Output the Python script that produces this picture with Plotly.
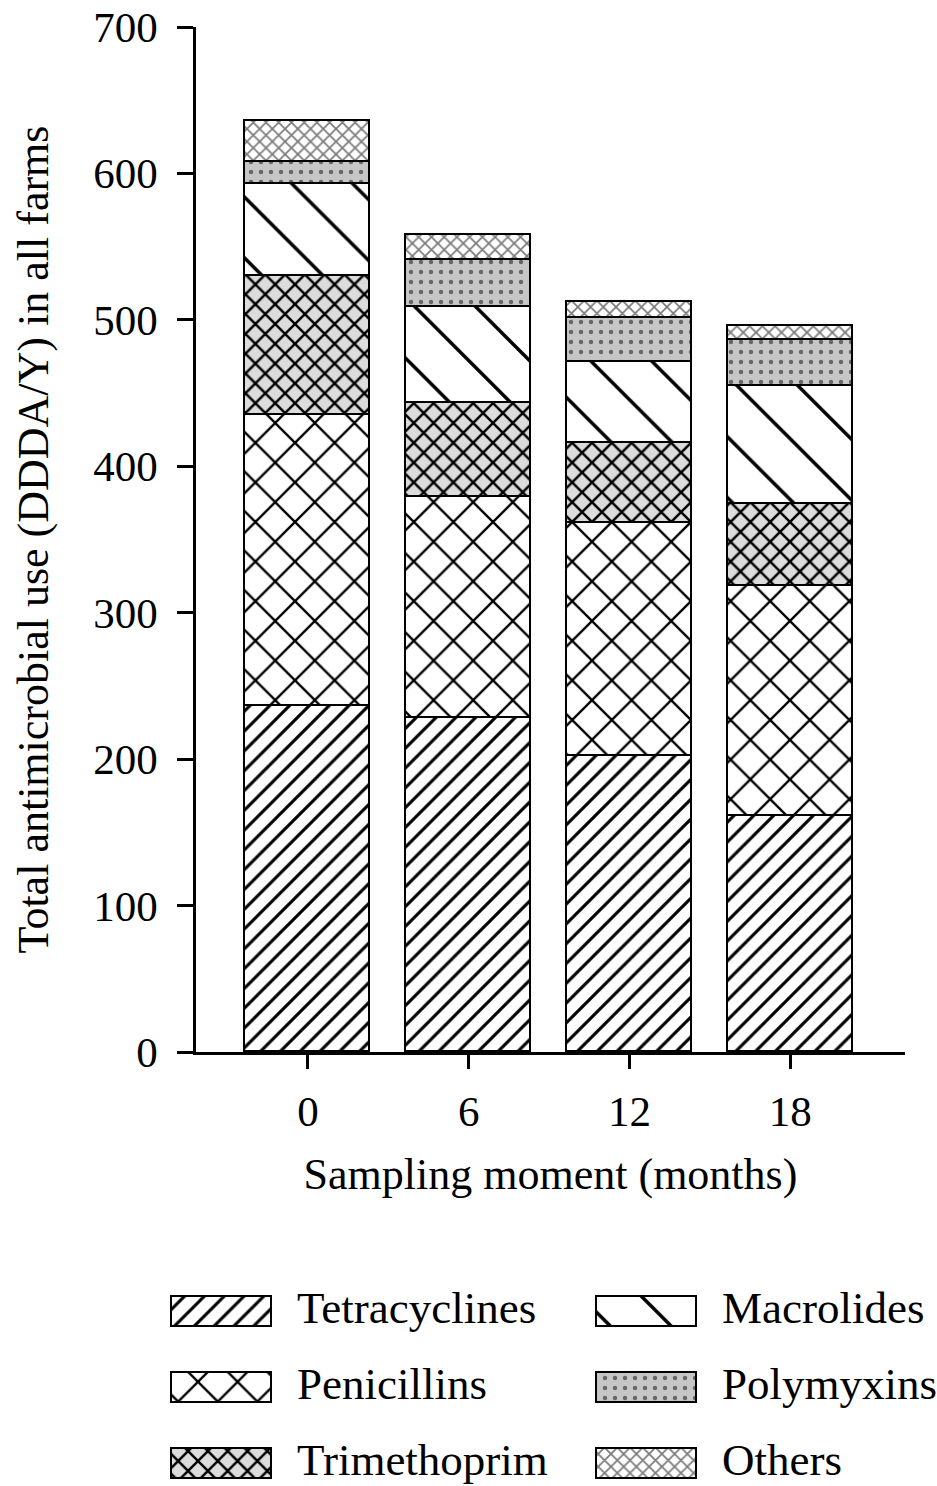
import plotly.graph_objects as go

# ---- data ----
months = ["0", "6", "12", "18"]
classes = ["Tetracyclines", "Penicillins", "Trimethoprim", "Macrolides", "Polymyxins", "Others"]
tetracyclines = [236, 228, 202, 161]
penicillins = [199, 151, 159, 157]
trimethoprim = [95, 64, 55, 56]
macrolides = [63, 66, 55, 81]
polymyxins = [15, 32, 30, 31]
others = [28, 17, 11, 10]
y_ticks = [0, 100, 200, 300, 400, 500, 600, 700]

series = [tetracyclines, penicillins, trimethoprim, macrolides, polymyxins, others]

FONT = "Liberation Serif, Times New Roman, serif"
TICK_FS = 43
TITLE_FS = 44
LEG_FS = 45

patterns = {
    "Tetracyclines": dict(shape="/", size=14, solidity=0.22, fgcolor="black", bgcolor="white", fillmode="replace"),
    "Penicillins": dict(shape="x", size=28, solidity=0.16, fgcolor="black", bgcolor="white", fillmode="replace"),
    "Trimethoprim": dict(shape="x", size=14, solidity=0.32, fgcolor="black", bgcolor="#dcdcdc", fillmode="replace"),
    "Macrolides": dict(shape="\\", size=43, solidity=0.08, fgcolor="black", bgcolor="white", fillmode="replace"),
    "Polymyxins": dict(shape=".", size=10, solidity=0.15, fgcolor="#666666", bgcolor="#c6c6c6", fillmode="replace"),
    "Others": dict(shape="x", size=9, solidity=0.34, fgcolor="#7a7a7a", bgcolor="white", fillmode="replace"),
}

fig = go.Figure()
xpos = list(range(len(months)))
for name, vals in zip(classes, series):
    fig.add_trace(go.Bar(
        x=xpos, y=vals, name=name, width=0.778,
        marker=dict(color="white", line=dict(color="black", width=1.8), pattern=patterns[name]),
        showlegend=False, xaxis="x", yaxis="y",
    ))

# ---- custom legend (separate hidden axes) ----
leg_cols = [172, 597]
leg_rows = [1312, 1388, 1464]
for i, name in enumerate(classes):
    col = i // 3
    row = i % 3
    fig.add_trace(go.Bar(
        orientation="h", y=[leg_rows[row]], x=[100], base=[leg_cols[col]], width=[30],
        marker=dict(color="white", line=dict(color="black", width=1.8), pattern=patterns[name]),
        showlegend=False, xaxis="x2", yaxis="y2", hoverinfo="skip",
    ))
    fig.add_trace(go.Scatter(
        x=[leg_cols[col] + 125], y=[leg_rows[row]], mode="text", text=[name],
        textposition="middle right", textfont=dict(family=FONT, size=LEG_FS, color="black"),
        showlegend=False, xaxis="x2", yaxis="y2", hoverinfo="skip",
    ))

W, H = 937, 1486
fig.update_layout(
    width=W, height=H,
    margin=dict(l=0, r=0, t=0, b=0, autoexpand=False),
    barmode="stack",
    paper_bgcolor="white", plot_bgcolor="white",
    font=dict(family=FONT, size=TICK_FS, color="black"),
    showlegend=False,
    xaxis=dict(
        domain=[196 / W, 905 / W], range=[-0.696, 3.714],
        tickvals=xpos, ticktext=months, automargin=False,
        showline=True, linecolor="black", linewidth=2.5,
        ticks="outside", ticklen=14, tickwidth=2.5, tickcolor="black",
        ticklabelstandoff=6,
        showgrid=False, zeroline=False,
        title=dict(text="Sampling moment (months)", standoff=24, font=dict(family=FONT, size=TITLE_FS)),
        anchor="y",
    ),
    yaxis=dict(
        domain=[1 - 1052 / H, 1 - 27 / H], range=[0, 700],
        tickvals=y_ticks, automargin=False,
        showline=True, linecolor="black", linewidth=2.5,
        ticks="outside", ticklen=16, tickwidth=2.5, tickcolor="black",
        ticklabelstandoff=11,
        showgrid=False, zeroline=False,
        title=dict(text="Total antimicrobial use (DDDA/Y) in all farms", standoff=31, font=dict(family=FONT, size=TITLE_FS)),
        anchor="x",
    ),
    xaxis2=dict(domain=[0, 1], range=[0, W], visible=False, anchor="y2", fixedrange=True),
    yaxis2=dict(domain=[0, (H - 1263) / H], range=[H, 1263], visible=False, anchor="x2", fixedrange=True),
    bargap=0,
)

fig.write_html(
    "out.html",
    config={"displayModeBar": False},
    post_script="document.body.style.margin='0';document.body.style.overflow='hidden';",
)
